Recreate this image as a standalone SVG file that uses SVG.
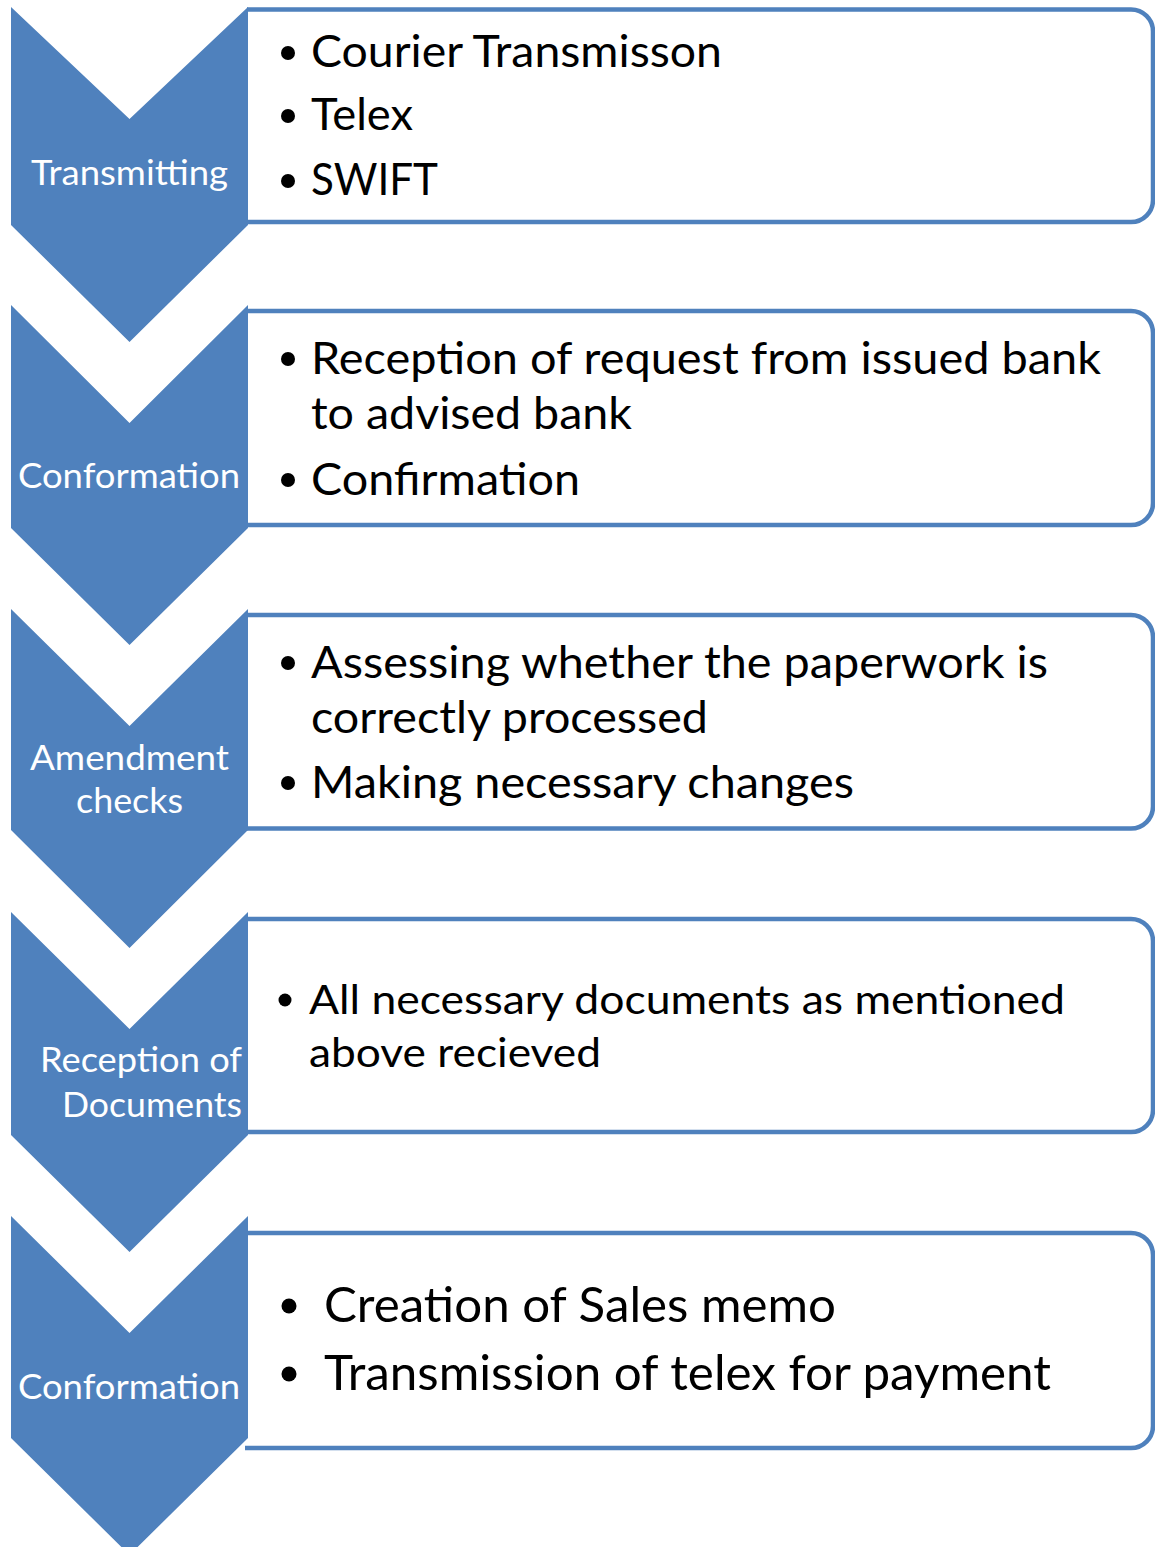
<svg xmlns="http://www.w3.org/2000/svg" width="1155" height="1547" viewBox="0 0 1155 1547">
<style>
.chev{fill:#4F81BD;stroke:none}
.box{fill:#FFFFFF;stroke:#4F81BD;stroke-width:4.5}
.lbl{font-family:Lato,"Liberation Sans",sans-serif;font-size:35px;fill:#FFFFFF}
.item{font-family:Lato,"Liberation Sans",sans-serif;fill:#000000}
.f1{font-size:45px}
.f4{font-size:41px}
.f5{font-size:47.5px}
.bul{fill:#000000}
</style>
<rect width="1155" height="1547" fill="#FFFFFF"/>
<g id="connectors"></g>

<g id="step1">
<path class="box" d="M247,9.5 H1131 A22,22 0 0 1 1153,31.5 V200 A22,22 0 0 1 1131,222 H245"/>
<path class="chev" d="M11,7 L129.5,119 L248,7 L248,225 L129.5,342 L11,225 Z"/>
<text class="lbl" x="31" y="185" textLength="197" lengthAdjust="spacingAndGlyphs">Transmitting</text>
<circle class="bul" cx="288" cy="53" r="7"/>
<text class="item f1" x="311" y="67" textLength="411" lengthAdjust="spacingAndGlyphs">Courier Transmisson</text>
<circle class="bul" cx="288" cy="116" r="7"/>
<text class="item f1" x="311" y="130" textLength="102" lengthAdjust="spacingAndGlyphs">Telex</text>
<circle class="bul" cx="288" cy="181" r="7"/>
<text class="item f1" x="311" y="195" textLength="127" lengthAdjust="spacingAndGlyphs">SWIFT</text>
</g>

<g id="step2">
<path class="box" d="M247,311 H1131 A22,22 0 0 1 1153,333 V503 A22,22 0 0 1 1131,525 H245"/>
<path class="chev" d="M11,305 L129.5,423 L248,305 L248,528 L129.5,645 L11,528 Z"/>
<text class="lbl" x="18" y="488" textLength="222" lengthAdjust="spacingAndGlyphs">Conformation</text>
<circle class="bul" cx="288" cy="359" r="7"/>
<text class="item f1" x="311" y="374" textLength="790" lengthAdjust="spacingAndGlyphs">Reception of request from issued bank</text>
<text class="item f1" x="311" y="429" textLength="321" lengthAdjust="spacingAndGlyphs">to advised bank</text>
<circle class="bul" cx="288" cy="480" r="7"/>
<text class="item f1" x="311" y="495" textLength="269" lengthAdjust="spacingAndGlyphs">Confirmation</text>
</g>

<g id="step3">
<path class="box" d="M247,615 H1131 A22,22 0 0 1 1153,637 V806.5 A22,22 0 0 1 1131,828.5 H245"/>
<path class="chev" d="M11,609 L129.5,726 L248,609 L248,830 L129.5,948 L11,830 Z"/>
<text class="lbl" x="30" y="770" textLength="199" lengthAdjust="spacingAndGlyphs">Amendment</text>
<text class="lbl" x="76" y="813" textLength="107" lengthAdjust="spacingAndGlyphs">checks</text>
<circle class="bul" cx="288" cy="663" r="7"/>
<text class="item f1" x="311" y="678" textLength="737" lengthAdjust="spacingAndGlyphs">Assessing whether the paperwork is</text>
<text class="item f1" x="311" y="733" textLength="397" lengthAdjust="spacingAndGlyphs">correctly processed</text>
<circle class="bul" cx="288" cy="783" r="7"/>
<text class="item f1" x="311" y="798" textLength="543" lengthAdjust="spacingAndGlyphs">Making necessary changes</text>
</g>

<g id="step4">
<path class="box" d="M247,919 H1131 A22,22 0 0 1 1153,941 V1110 A22,22 0 0 1 1131,1132 H245"/>
<path class="chev" d="M11,912 L129.5,1029 L248,912 L248,1135 L129.5,1252 L11,1135 Z"/>
<text class="lbl" x="40" y="1072" textLength="202" lengthAdjust="spacingAndGlyphs">Reception of</text>
<text class="lbl" x="62" y="1117" textLength="180" lengthAdjust="spacingAndGlyphs">Documents</text>
<circle class="bul" cx="285" cy="1000" r="6.5"/>
<text class="item f4" x="309" y="1014" textLength="756" lengthAdjust="spacingAndGlyphs">All necessary documents as mentioned</text>
<text class="item f4" x="309" y="1067" textLength="292" lengthAdjust="spacingAndGlyphs">above recieved</text>
</g>

<g id="step5">
<path class="box" d="M247,1233 H1131 A22,22 0 0 1 1153,1255 V1426 A22,22 0 0 1 1131,1448 H245"/>
<path class="chev" d="M11,1216 L129.5,1333 L248,1216 L248,1438 L129.5,1555 L11,1438 Z"/>
<text class="lbl" x="18" y="1399" textLength="222" lengthAdjust="spacingAndGlyphs">Conformation</text>
<circle class="bul" cx="289" cy="1306" r="7.5"/>
<text class="item f5" x="324" y="1322" textLength="512" lengthAdjust="spacingAndGlyphs">Creation of Sales memo</text>
<circle class="bul" cx="289" cy="1374" r="7.5"/>
<text class="item f5" x="324" y="1390" textLength="727" lengthAdjust="spacingAndGlyphs">Transmission of telex for payment</text>
</g>
</svg>
